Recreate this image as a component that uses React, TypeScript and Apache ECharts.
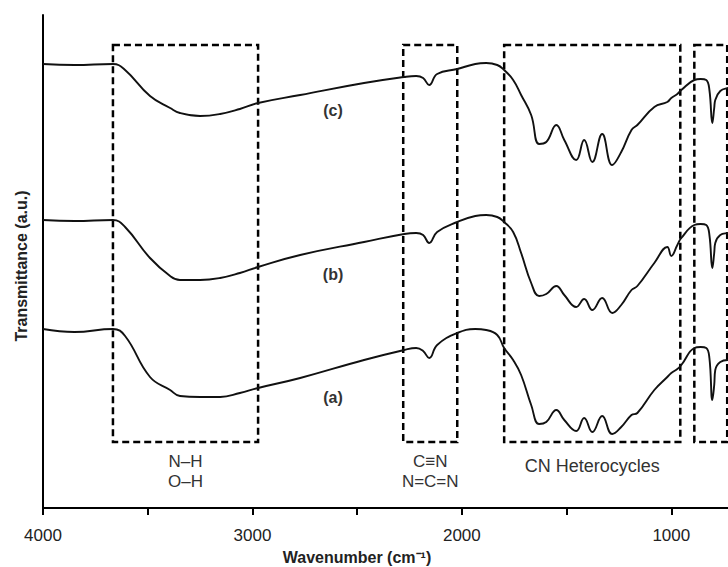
import React, { useEffect, useRef } from 'react';
import * as echarts from 'echarts';

// Wavenumber sampling (cm⁻¹) shared by the three spectra
const wavenumbers = [
  4000, 3850, 3666, 3608, 3489, 3393, 3346, 3250, 3154, 3060,
  2973, 2772, 2467, 2275, 2218, 2185, 2156, 2118, 2022, 1936,
  1884, 1831, 1798, 1755, 1717, 1669, 1631, 1597, 1549, 1511,
  1454, 1416, 1377, 1330, 1282, 1239, 1190, 1162, 1081, 1019,
  1000, 971, 952, 890, 860, 833, 818, 804, 795, 790,
  766, 728, 700,
];

// Transmittance (a.u., offset spectra)
const transA = [
  179, 176, 179, 172, 131, 118, 112, 111, 111, 115,
  120, 130, 148, 158, 160, 157, 150, 163, 175, 179,
  178, 173, 160, 148, 133, 103, 84, 86, 98, 88,
  77, 90, 76, 92, 74, 81, 93, 95, 118, 131,
  135, 139, 143, 160, 161, 160, 150, 108, 123, 138,
  146, 148, 148,
];
const transB = [
  288, 287, 288, 281, 250, 232, 228, 228, 230, 235,
  241, 253, 266, 274, 275, 273, 265, 276, 286, 292,
  293, 291, 286, 276, 255, 225, 212, 214, 222, 213,
  201, 209, 198, 210, 195, 203, 218, 222, 245, 261,
  252, 263, 270, 283, 284, 283, 273, 240, 255, 265,
  273, 275, 276,
];
const transC = [
  444, 443, 444, 438, 412, 400, 395, 392, 394, 399,
  405, 413, 425, 431, 432, 430, 423, 434, 439, 444,
  445, 443, 438, 428, 413, 393, 364, 366, 383, 368,
  348, 368, 346, 374, 343, 356, 378, 383, 401, 406,
  410, 414, 418, 428, 429, 428, 418, 385, 400, 408,
  417, 420, 421,
];

const xTickLabels = [4000, 3000, 2000, 1000];

// Dashed band boxes
const boxNames = ['N–H\nO–H', 'C≡N\nN=C=N', 'CN Heterocycles', ''];
const boxFrom = [3666, 2280, 1798, 890];
const boxTo = [2973, 2022, 957, 733];
const boxLow = 66;
const boxHigh = 463;

// Curve tags
const curveTags = ['(a)', '(b)', '(c)'];
const curveTagAt = [
  [2615, 111],
  [2615, 234],
  [2615, 398],
];

const FONT = '"Liberation Sans", Arial, Helvetica, sans-serif';

export default function App() {
  const ref = useRef<HTMLDivElement>(null);

  useEffect(() => {
    const chart = echarts.init(ref.current!, null, { renderer: 'svg' });
    const pairs = (t: number[]) => wavenumbers.map((w, i) => [w, t[i]]);
    const line = (name: string, t: number[], extra: any = {}) => ({
      type: 'line',
      name,
      data: pairs(t),
      showSymbol: false,
      smooth: 0.45,
      silent: true,
      lineStyle: { color: '#111', width: 1.9 },
      ...extra,
    });

    chart.setOption({
      animation: false,
      backgroundColor: '#fff',
      grid: { left: 43, top: 15, width: 733, height: 493 },
      xAxis: {
        type: 'value',
        min: 500,
        max: 4000,
        interval: 500,
        inverse: true,
        axisLine: { show: true, onZero: false, lineStyle: { color: '#000', width: 2 } },
        axisTick: { show: true, length: 7, lineStyle: { color: '#000', width: 2 } },
        axisLabel: {
          showMaxLabel: true,
          showMinLabel: true,
          interval: 0,
          margin: 19,
          fontSize: 17,
          color: '#222',
          fontFamily: FONT,
          formatter: (v: number) => (xTickLabels.includes(v) ? String(v) : ''),
        },
        splitLine: { show: false },
      },
      yAxis: {
        type: 'value',
        min: 0,
        max: 493,
        axisLine: { show: true, onZero: false, lineStyle: { color: '#000', width: 2 } },
        axisTick: { show: false },
        axisLabel: { show: false },
        splitLine: { show: false },
      },
      series: [
        line('a', transA, {
          markArea: {
            silent: true,
            itemStyle: {
              color: 'rgba(0,0,0,0)',
              borderColor: '#000',
              borderWidth: 2.5,
              borderType: [7, 4],
            },
            label: {
              show: true,
              position: 'bottom',
              fontSize: 17,
              lineHeight: 20,
              color: '#333',
              fontFamily: FONT,
              align: 'center',
            },
            data: boxFrom.map((f, i) => [
              {
                name: boxNames[i],
                xAxis: f,
                yAxis: boxHigh,
                label: {
                  distance: boxNames[i].includes('\n') ? 8 : 13,
                  fontSize: boxNames[i].includes('\n') ? 17 : 18,
                },
              },
              { xAxis: boxTo[i], yAxis: boxLow },
            ]),
          },
        }),
        line('b', transB),
        line('c', transC),
      ],
    });

    const tagGraphics = curveTags.map((t, i) => {
      const p = chart.convertToPixel({ gridIndex: 0 }, curveTagAt[i]) as number[];
      return {
        type: 'text',
        x: p[0],
        y: p[1],
        style: {
          text: t,
          fill: '#333',
          font: `bold 16px ${FONT}`,
          textAlign: 'center',
          textVerticalAlign: 'middle',
        },
      };
    });

    chart.setOption({
      graphic: [
        ...tagGraphics,
        {
          type: 'text',
          x: 357,
          y: 557,
          style: {
            text: 'Wavenumber (cm⁻¹)',
            fill: '#222',
            font: `bold 16px ${FONT}`,
            textAlign: 'center',
            textVerticalAlign: 'middle',
          },
        },
        {
          type: 'text',
          x: 21,
          y: 266,
          rotation: Math.PI / 2,
          style: {
            text: 'Transmittance (a.u.)',
            fill: '#222',
            font: `bold 16px ${FONT}`,
            textAlign: 'center',
            textVerticalAlign: 'middle',
          },
        },
      ],
    });

    return () => chart.dispose();
  }, []);

  return (
    <div
      style={{
        position: 'absolute',
        left: 0,
        top: 0,
        width: 728,
        height: 567,
        overflow: 'hidden',
        background: '#fff',
      }}
    >
      <div ref={ref} style={{ width: 800, height: 567 }} />
    </div>
  );
}
